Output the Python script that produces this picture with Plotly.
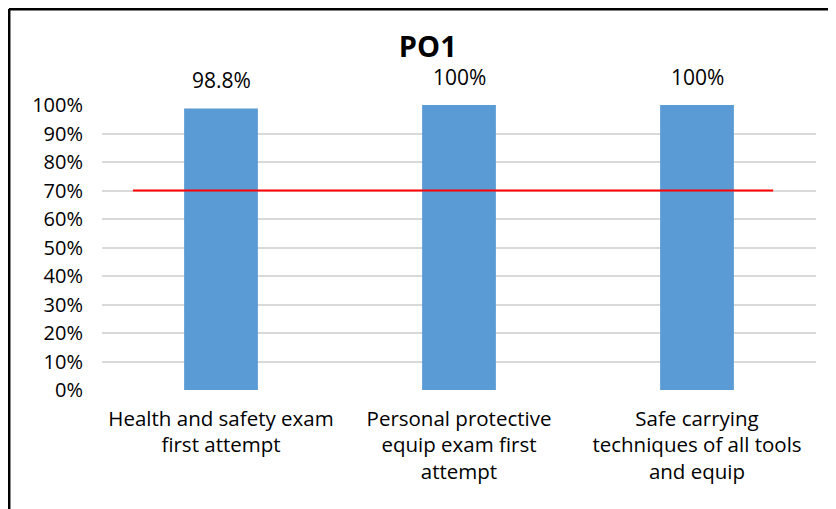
import plotly.graph_objects as go

categories = [
    "Health and safety exam<br>first attempt",
    "Personal protective<br>equip exam first<br>attempt",
    "Safe carrying<br>techniques of all tools<br>and equip",
]
values = [98.8, 100, 100]
target = 70
y_ticks = list(range(0, 101, 10))

pos = list(range(len(categories)))
labels = [f"{v:g}%" for v in values]
font = "Open Sans"

fig = go.Figure()
fig.add_trace(go.Bar(
    x=pos, y=values, width=0.31,
    marker=dict(color="#5b9bd5", line=dict(width=0)),
))
fig.add_trace(go.Scatter(
    x=[pos[0] - 0.37, pos[-1] + 0.32], y=[target, target],
    mode="lines", line=dict(color="#ff0000", width=2),
))

# data labels above the bars
for p, v, t in zip(pos, values, labels):
    fig.add_annotation(x=p, y=v, text=t, showarrow=False, yanchor="bottom",
                       yshift=12, font=dict(size=21, family=font, color="#000000"))

fig.update_layout(
    width=828, height=501,
    margin=dict(l=94, r=20, t=97, b=119),
    paper_bgcolor="white", plot_bgcolor="white",
    showlegend=False,
    title=dict(text="<b>PO1</b>", xref="container", yref="container",
               x=0.507, xanchor="center", y=0.922, yanchor="middle",
               font=dict(size=29, family=font, color="#000000")),
    font=dict(family=font, color="#000000"),
    xaxis=dict(range=[-0.5, 2.5], tickvals=pos, ticktext=categories,
               showgrid=False, zeroline=False, showline=False,
               tickfont=dict(size=20.5), ticks="", ticklabelstandoff=14),
    yaxis=dict(range=[0, 100], tickvals=y_ticks,
               ticktext=[f"{t}%" for t in y_ticks],
               showgrid=True, gridcolor="#d9d9d9", gridwidth=1.5,
               zeroline=False, showline=False, ticks="",
               tickfont=dict(size=20), ticklabelstandoff=18),
    shapes=[
        dict(type="line", xref="paper", yref="paper", x0=-0.1303, x1=1.2, y0=1.3368, y1=1.3368,
             line=dict(color="black", width=3)),
        dict(type="line", xref="paper", yref="paper", x0=-0.1303, x1=-0.1303, y0=1.3368, y1=-0.5,
             line=dict(color="black", width=3)),
    ],
)

fig.write_html("out.html")
